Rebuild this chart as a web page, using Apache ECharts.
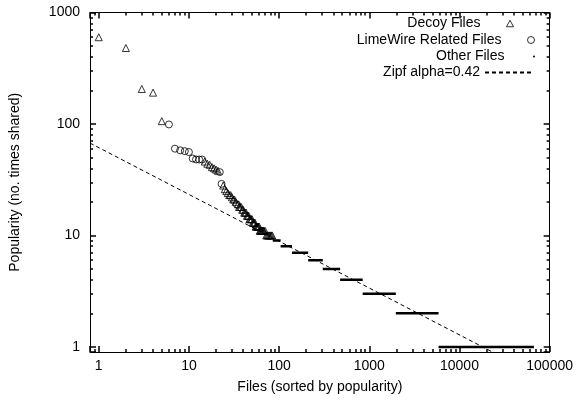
<!DOCTYPE html>
<html><head><meta charset="utf-8">
<script src="https://cdn.jsdelivr.net/npm/echarts@6/dist/echarts.min.js"></script>
<style>html,body{margin:0;padding:0;background:#fff}#c{width:576px;height:400px}</style>
</head><body><div id="c"></div>
<script>
// ---- data ----
const decoyRanks  = [1,2,3,4,5,15,16,17,18,19,20,21,24,25,26,27,28,29,30,31,32,33,35,36,37,38,39,40,41,42,43,44,45,46,47,48,49,50,51,52,53,54,55,56,57,58,59,60,61,62,63,64,65,66,67,68,70,72,74,76,78,80,82,84];
const decoyValues = [600,480,206,191,106,46,44,43,41,40,39,38,28,26,25,24,23,23,22,21,21,20,19,18,18,18,17,17,16,16,16,15,15,15,14,14,14,14,13,13,13,13,12,12,12,12,12,12,11,11,11,11,11,11,11,11,11,10,10,10,10,10,10,10];
const limeRanks   = [6,7,8,9,10,11,12,13,14,22,23,34];
const limeValues  = [99,60,58,57,56,49,48,48,48,37,29,19];
const otherValues    = [9,8,7,6,5,4,3,2,1];
const otherFirstRank = [85,104,139,210,305,475,845,1970,5860];
const otherLastRank  = [104,139,210,305,475,845,1970,5860,67000];
const zipfRanks  = [0.8, 23200];
const zipfValues = [67.4, 0.9];
const xTickLabels = ['1','10','100','1000','10000','100000'];
const yTickLabels = ['1','10','100','1000'];

const FONT = 'Liberation Sans';
function onlyLabels(list){
  return function(v){
    const r = Math.round(v);
    if (Math.abs(v - r) < 1e-6 * Math.max(1, r) && list.indexOf(String(r)) >= 0) return String(r);
    return '';
  };
}
const otherData = [];
otherValues.forEach(function(v, i){
  otherData.push([otherFirstRank[i], v]);
  otherData.push([otherLastRank[i], v]);
  otherData.push([otherLastRank[i], '-']);
});

const black = '#000';
const majorTick = {show:true, inside:true, length:6, lineStyle:{color:black, width:1.5}};
const minorTickStyle = {show:true, splitNumber:9, length:3, lineStyle:{color:black, width:1.5}};
function xAx(pos, showLabel){
  return {
    type:'log', logBase:10, min:0.8, max:100000, position:pos,
    axisLine:{show:true, lineStyle:{color:black, width:1}},
    axisTick:majorTick,
    minorTick:minorTickStyle,
    splitLine:{show:false},
    axisLabel:{show:showLabel, color:black, fontSize:14, fontFamily:FONT, margin:7, formatter:onlyLabels(xTickLabels)},
    name: showLabel ? 'Files (sorted by popularity)' : '',
    nameLocation:'middle', nameGap:28,
    nameTextStyle:{color:black, fontSize:14, fontFamily:FONT}
  };
}
function yAx(pos, showLabel){
  return {
    type:'log', logBase:10, min:0.9, max:1000, position:pos,
    axisLine:{show:true, lineStyle:{color:black, width:1}},
    axisTick:majorTick,
    minorTick:minorTickStyle,
    splitLine:{show:false},
    axisLabel:{show:showLabel, color:black, fontSize:14, fontFamily:FONT, margin:10, formatter:onlyLabels(yTickLabels)},
    name: showLabel ? 'Popularity (no. times shared)' : '',
    nameLocation:'middle', nameGap:68,
    nameTextStyle:{color:black, fontSize:14, fontFamily:FONT}
  };
}
function leg(item, top, extra){
  return Object.assign({
    data:[item], orient:'vertical', right:41, top:top, padding:0,
    itemWidth:49, itemHeight:7, align:'right', selectedMode:false,
    textStyle:{color:black, fontSize:14, fontFamily:FONT}
  }, extra || {});
}

const chart = echarts.init(document.getElementById('c'), null, {renderer:'canvas'});
chart.setOption({
  animation:false,
  backgroundColor:'#fff',
  grid:{left:85, right:25, top:12.5, bottom:48, containLabel:false},
  xAxis:[xAx('bottom', true), xAx('top', false)],
  yAxis:[yAx('left', true), yAx('right', false)],
  legend:[
    leg({name:'Decoy Files', icon:'path://M0,3.5L0,3.5M21,7L24.5,0.5L28,7ZM49,3.5L49,3.5', itemStyle:{color:'rgba(0,0,0,0)', borderColor:black, borderWidth:1}}, 16.5),
    leg({name:'LimeWire Related Files', icon:'circle', itemStyle:{color:'rgba(0,0,0,0)', borderColor:black, borderWidth:1}}, 33),
    leg({name:'Other Files', icon:'circle', itemStyle:{color:black, borderWidth:0}}, 49.5, {itemHeight:2}),
    leg({name:'Zipf alpha=0.42', itemStyle:{opacity:0}}, 65.5, {itemHeight:10})
  ],
  series:[
    {name:'Decoy Files', type:'scatter', symbol:'triangle', symbolSize:7,
     itemStyle:{color:'rgba(0,0,0,0)', borderColor:black, borderWidth:1},
     data: decoyRanks.map(function(r,i){return [r, decoyValues[i]];})},
    {name:'LimeWire Related Files', type:'scatter', symbol:'circle', symbolSize:7,
     itemStyle:{color:'rgba(0,0,0,0)', borderColor:black, borderWidth:1},
     data: limeRanks.map(function(r,i){return [r, limeValues[i]];})},
    {name:'Other Files', type:'line', symbol:'none', connectNulls:false,
     itemStyle:{color:black},
     lineStyle:{color:black, width:2.5}, data: otherData},
    {name:'Zipf alpha=0.42', type:'line', symbol:'none',
     itemStyle:{color:black},
     lineStyle:{color:black, width:1, type:[4,3]}, clip:true,
     data: zipfRanks.map(function(r,i){return [r, zipfValues[i]];})}
  ]
});
</script></body></html>
